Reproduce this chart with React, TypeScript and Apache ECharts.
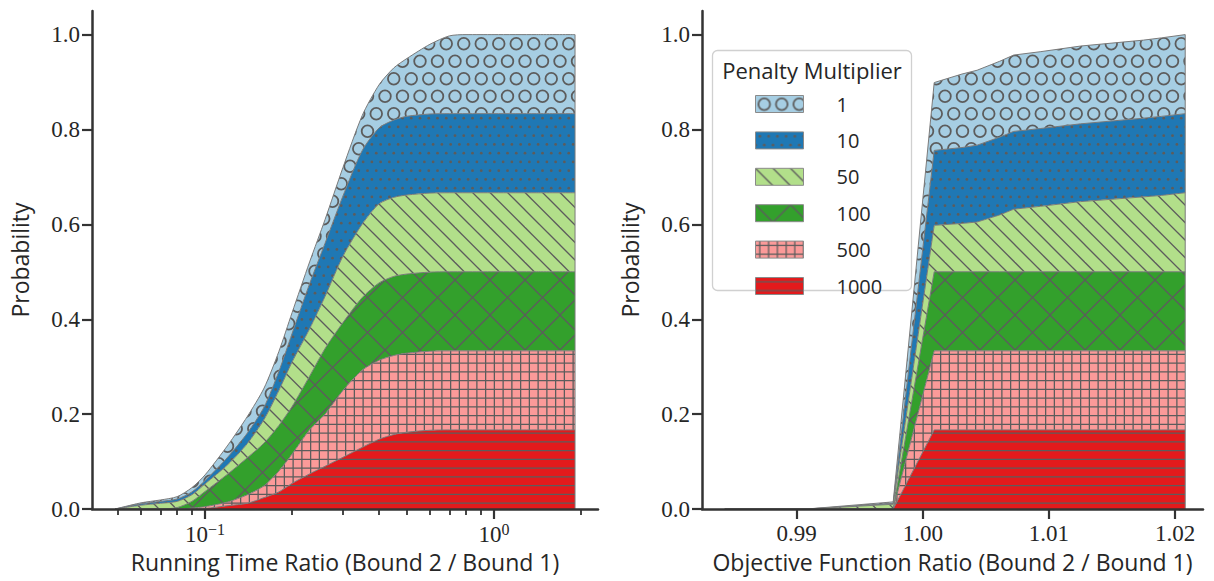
import React, { useEffect, useRef } from 'react';
import * as echarts from 'echarts';

// ---------------- data ----------------
const penaltyNames = ['1', '10', '50', '100', '500', '1000'];
const fillColors = ['#a6cee3', '#1f78b4', '#b2df8a', '#33a02c', '#fb9a99', '#e31a1c'];

// Left panel: running time ratio (log x)
const runTimeRatio = [0.0488, 0.06, 0.07, 0.08, 0.09, 0.1, 0.12, 0.14, 0.16, 0.18, 0.2, 0.23, 0.26, 0.3, 0.35, 0.4, 0.45, 0.5, 0.6, 0.7, 0.8, 1.0, 1.4, 1.907];
const runP1 = [0, 0.002, 0.003, 0.005, 0.009, 0.012, 0.025, 0.035, 0.04, 0.042, 0.044, 0.046, 0.05, 0.06, 0.074, 0.091, 0.11, 0.122, 0.147, 0.164, 0.1667, 0.1667, 0.1667, 0.1667];
const runP10 = [0, 0.003, 0.004, 0.005, 0.006, 0.007, 0.016, 0.022, 0.026, 0.04, 0.06, 0.095, 0.112, 0.127, 0.155, 0.16, 0.163, 0.166, 0.1667, 0.1667, 0.1667, 0.1667, 0.1667, 0.1667];
const runP50 = [0, 0.008, 0.012, 0.013, 0.014, 0.016, 0.02, 0.03, 0.05, 0.074, 0.094, 0.1, 0.11, 0.14, 0.155, 0.1667, 0.1667, 0.1667, 0.1667, 0.1667, 0.1667, 0.1667, 0.1667, 0.1667];
const runP100 = [0, 0, 0, 0.003, 0.014, 0.032, 0.059, 0.078, 0.09, 0.096, 0.1, 0.113, 0.138, 0.143, 0.153, 0.163, 0.1667, 0.1667, 0.1667, 0.1667, 0.1667, 0.1667, 0.1667, 0.1667];
const runP500 = [0, 0, 0, 0, 0.002, 0.004, 0.008, 0.018, 0.025, 0.044, 0.062, 0.093, 0.11, 0.141, 0.163, 0.1667, 0.1667, 0.1667, 0.1667, 0.1667, 0.1667, 0.1667, 0.1667, 0.1667];
const runP1000 = [0, 0, 0, 0, 0, 0.001, 0.007, 0.012, 0.024, 0.036, 0.054, 0.074, 0.09, 0.109, 0.13, 0.147, 0.157, 0.162, 0.166, 0.1667, 0.1667, 0.1667, 0.1667, 0.1667];

// Right panel: objective function ratio
const objRatio = [0.9843, 0.9908, 0.99765, 1.0009, 1.0031, 1.0043, 1.0061, 1.0072, 1.0093, 1.0125, 1.0175, 1.0189, 1.0208];
const objP1 = [0, 0, 0.003, 0.143, 0.155, 0.158, 0.16, 0.161, 0.162, 0.164, 0.1645, 0.1655, 0.1667];
const objP10 = [0, 0, 0.002, 0.158, 0.16, 0.162, 0.164, 0.164, 0.164, 0.164, 0.166, 0.1667, 0.1667];
const objP50 = [0, 0, 0.01, 0.098, 0.102, 0.105, 0.12, 0.132, 0.138, 0.148, 0.158, 0.161, 0.1667];
const objP100 = [0, 0, 0, 0.1667, 0.1667, 0.1667, 0.1667, 0.1667, 0.1667, 0.1667, 0.1667, 0.1667, 0.1667];
const objP500 = [0, 0, 0, 0.1667, 0.1667, 0.1667, 0.1667, 0.1667, 0.1667, 0.1667, 0.1667, 0.1667, 0.1667];
const objP1000 = [0, 0, 0, 0.1667, 0.1667, 0.1667, 0.1667, 0.1667, 0.1667, 0.1667, 0.1667, 0.1667, 0.1667];

// ticks
const probTicks = [0, 0.2, 0.4, 0.6, 0.8, 1.0];
const runMajorTicks = [0.1, 1];
const runMajorExponents = ['−1', '0'];
const runMinorTicks = [0.05, 0.06, 0.07, 0.08, 0.09, 0.2, 0.3, 0.4, 0.5, 0.6, 0.7, 0.8, 0.9, 2];
const objTicks = [0.99, 1.0, 1.01, 1.02];

// ---------------- styles ----------------
const SERIF = '"Liberation Serif", "DejaVu Serif", serif';
const SANS = '"Open Sans", Lato, sans-serif';
const TXT = '#262626';
const AX = '#333333';
const EDGE = '#7a7a7a';
const HATCH = '#5c5c5c';
const T = 35;

function tile(bg: string, body: string) {
  const svg = `<svg xmlns="http://www.w3.org/2000/svg" width="${T}" height="${T}" viewBox="0 0 ${T} ${T}"><rect width="${T}" height="${T}" fill="${bg}"/>${body}</svg>`;
  return {
    image: 'data:image/svg+xml;charset=utf-8,' + encodeURIComponent(svg),
    imageWidth: T,
    imageHeight: T,
    repeat: 'repeat',
  };
}
const ln = (x1: number, y1: number, x2: number, y2: number) =>
  `<line x1="${x1}" y1="${y1}" x2="${x2}" y2="${y2}" stroke="${HATCH}" stroke-width="1.3"/>`;

function makePatterns() {
  const rings = [[8.75, 8.75], [26.25, 8.75], [0, 26.25], [17.5, 26.25], [35, 26.25]]
    .map(([cx, cy]) => `<circle cx="${cx}" cy="${cy}" r="5.8" fill="none" stroke="${HATCH}" stroke-width="1.8"/>`).join('');
  let dots = '';
  for (let k = 0; k < 4; k++) {
    for (let j = -1; j < 5; j++) {
      const cx = 4.375 + 8.75 * j + (k % 2 ? 4.375 : 0);
      const cy = 4.375 + 8.75 * k;
      dots += `<circle cx="${cx}" cy="${cy}" r="1.4" fill="${HATCH}"/>`;
    }
  }
  let back = '';
  for (const c of [-35, -17.5, 0, 17.5, 35]) back += ln(c - 5, -5, c + 40, 40);
  let cross = '';
  for (const c of [-35, 0, 35]) cross += ln(c - 5, -5, c + 40, 40);
  for (const c of [0, 35, 70]) cross += ln(c + 5, -5, c - 40, 40);
  let plus = '';
  let minus = '';
  for (let k = 0; k < 4; k++) {
    const p = 4.375 + 8.75 * k;
    plus += ln(0, p, T, p) + ln(p, 0, p, T);
    minus += ln(0, p, T, p);
  }
  return [
    tile(fillColors[0], rings),
    tile(fillColors[1], dots),
    tile(fillColors[2], back),
    tile(fillColors[3], cross),
    tile(fillColors[4], plus),
    tile(fillColors[5], minus),
  ];
}

function buildOption() {
  const patterns = makePatterns();
  const runLayers = [runP1, runP10, runP50, runP100, runP500, runP1000];
  const objLayers = [objP1, objP10, objP50, objP100, objP500, objP1000];
  const order = [5, 4, 3, 2, 1, 0]; // stack from 1000 (bottom) to 1 (top)

  // value first, ratio second, so that ECharts stacks the probability dimension
  const stackSeries = (xs: number[], layers: number[][], xi: number, yi: number, stack: string, smooth: number) =>
    order.map((k, i) => ({
      type: 'line',
      name: penaltyNames[k],
      xAxisIndex: xi,
      yAxisIndex: yi,
      stack,
      smooth,
      symbol: 'none',
      showSymbol: false,
      silent: true,
      z: 10 - i,
      encode: { x: 1, y: 0 },
      data: xs.map((x, j) => [layers[k][j], x]),
      lineStyle: { color: EDGE, width: 1 },
      itemStyle: { color: fillColors[k] },
      areaStyle: { color: patterns[k], opacity: 1 },
    }));

  const edgeSeries = (xs: number[], layers: number[][], xi: number, yi: number) => {
    const n = xs.length - 1;
    const top = layers.reduce((s, l) => s + l[n], 0);
    return {
      type: 'line', xAxisIndex: xi, yAxisIndex: yi, symbol: 'none', silent: true, z: 11,
      data: [[xs[n], 0], [xs[n], top]],
      lineStyle: { color: EDGE, width: 1 },
    };
  };

  const tickLine = (w: number) => ({ color: AX, width: w });
  const axisLine = { show: true, lineStyle: { color: AX, width: 2.5 } };
  const nameStyle = { fontFamily: SANS, fontSize: 23, color: TXT };
  const serifLabel = { fontFamily: SERIF, fontSize: 23, color: TXT };

  const yAxis = (gi: number) => ({
    type: 'value', gridIndex: gi, min: 0, max: 1.05, z: 20,
    axisLine,
    axisTick: { customValues: probTicks, length: 10, lineStyle: tickLine(2.2) },
    axisLabel: { customValues: probTicks, margin: 12, ...serifLabel, formatter: (v: number) => v.toFixed(1) },
    splitLine: { show: false },
    name: 'Probability', nameLocation: 'middle', nameGap: 61, nameTextStyle: nameStyle,
  });

  return {
    animation: false,
    backgroundColor: '#ffffff',
    grid: [
      { left: 92, top: 11, width: 506, height: 498 },
      { left: 702, top: 11, width: 501, height: 498 },
    ],
    xAxis: [
      {
        type: 'log', gridIndex: 0, min: 0.0406, max: 2.29, z: 20, position: 'bottom',
        axisLine,
        axisTick: { customValues: runMajorTicks, length: 10, lineStyle: tickLine(2.2) },
        axisLabel: {
          customValues: runMajorTicks, margin: 12,
          formatter: (v: number) => {
            const i = runMajorTicks.findIndex((t) => Math.abs(t - v) / t < 1e-6);
            return `{b|10}{s|${runMajorExponents[i] ?? ''}}`;
          },
          rich: {
            b: { fontFamily: SERIF, fontSize: 23, color: TXT, lineHeight: 26 },
            s: { fontFamily: SERIF, fontSize: 16, color: TXT, lineHeight: 14, verticalAlign: 'top' },
          },
        },
        splitLine: { show: false },
        name: 'Running Time Ratio (Bound 2 / Bound 1)', nameLocation: 'middle', nameGap: 41, nameTextStyle: nameStyle,
      },
      {
        type: 'log', gridIndex: 0, min: 0.0406, max: 2.29, z: 20, position: 'bottom',
        axisLine: { show: false },
        axisTick: { customValues: runMinorTicks, length: 6, lineStyle: tickLine(1.8) },
        axisLabel: { show: false },
        splitLine: { show: false },
      },
      {
        type: 'value', gridIndex: 1, min: 0.98249, max: 1.02221, z: 20,
        axisLine,
        axisTick: { customValues: objTicks, length: 10, lineStyle: tickLine(2.2) },
        axisLabel: { customValues: objTicks, margin: 13, ...serifLabel, formatter: (v: number) => v.toFixed(2) },
        splitLine: { show: false },
        name: 'Objective Function Ratio (Bound 2 / Bound 1)', nameLocation: 'middle', nameGap: 41, nameTextStyle: nameStyle,
      },
    ],
    yAxis: [yAxis(0), yAxis(1)],
    legend: {
      orient: 'vertical', left: 755, top: 94, padding: 0,
      itemWidth: 48, itemHeight: 17, itemGap: 16.4, icon: 'rect', selectedMode: false, z: 60,
      textStyle: { fontFamily: SANS, fontSize: 20, color: TXT, lineHeight: 17, padding: [0, 0, 0, 28] },
      data: penaltyNames.map((n, k) => ({ name: n, itemStyle: { color: patterns[k], borderColor: '#8a8a8a', borderWidth: 1 } })),
    },
    graphic: [
      {
        type: 'rect', z: 50, silent: true,
        shape: { x: 712.5, y: 50.5, width: 199, height: 240, r: 5 },
        style: { fill: 'rgba(255,255,255,0.85)', stroke: '#d0d0d0', lineWidth: 1.3 },
      },
      {
        type: 'text', z: 51, silent: true, x: 812, y: 70,
        style: { text: 'Penalty Multiplier', fill: TXT, fontFamily: SANS, fontSize: 22, align: 'center', verticalAlign: 'middle' },
      },
    ],
    series: [
      ...stackSeries(runTimeRatio, runLayers, 0, 0, 'run', 0.25),
      edgeSeries(runTimeRatio, runLayers, 0, 0),
      ...stackSeries(objRatio, objLayers, 2, 1, 'obj', 0),
      edgeSeries(objRatio, objLayers, 2, 1),
    ],
  };
}

export default function App() {
  const ref = useRef<HTMLDivElement>(null);
  useEffect(() => {
    if (!ref.current) return;
    const chart = echarts.init(ref.current, null, { renderer: 'svg' });
    chart.setOption(buildOption() as any);
    return () => chart.dispose();
  }, []);
  return (
    <div
      ref={ref}
      style={{ position: 'fixed', left: 0, top: 0, width: 1214, height: 581, background: '#ffffff' }}
    />
  );
}
